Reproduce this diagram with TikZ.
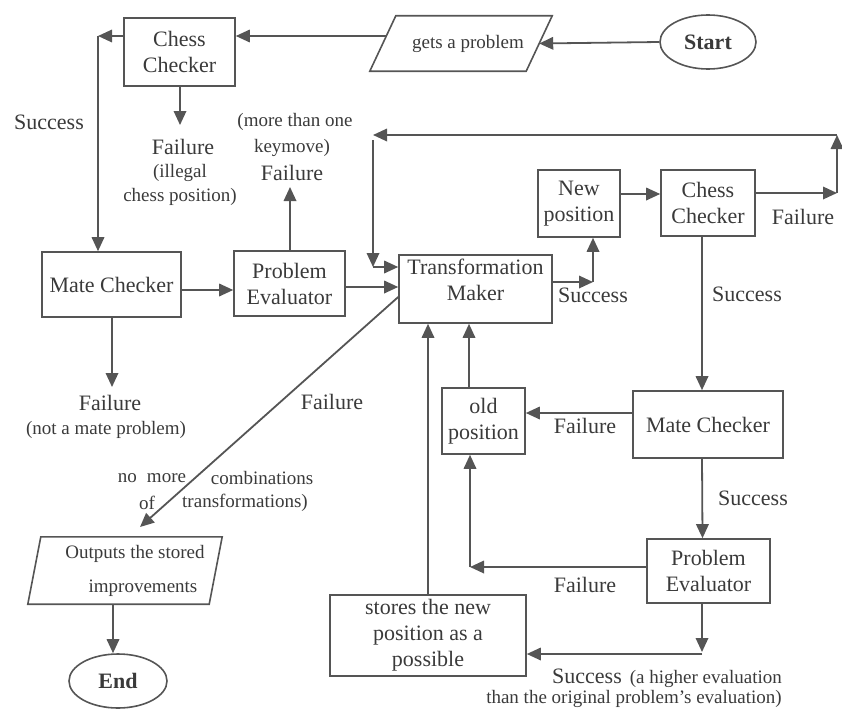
\documentclass[tikz,border=0pt]{standalone}
\usepackage{fontspec}
\setmainfont{Liberation Serif}
\usetikzlibrary{arrows.meta,shapes.geometric}
\definecolor{ink}{RGB}{85,85,85}
\definecolor{txt}{RGB}{58,58,58}
\newcommand\fbig{\fontsize{22}{26}\selectfont}
\newcommand\fsmall{\fontsize{19}{23}\selectfont}
\begin{document}
\begin{tikzpicture}[x=1pt,y=-1pt,
  box/.style={draw=ink,line width=1.6pt,text=txt,font=\fbig,align=center,inner sep=0pt},
  paratext/.style={text=txt,align=center,inner sep=0pt,font=\fsmall},
  paraline/.style={draw=ink,line width=1.6pt,line join=miter},
  term/.style={draw=ink,line width=1.6pt,text=txt,font=\fbig,ellipse,inner sep=0pt},
  lbl/.style={text=txt,font=\fbig,inner sep=1pt},
  slbl/.style={text=txt,font=\fsmall,inner sep=1pt},
  arr/.style={draw=ink,line width=1.8pt,-{Triangle[length=14pt,width=12.5pt]}}]
\path[use as bounding box] (0,0) rectangle (842,709);

% boxes
\node[box,minimum width=111pt,minimum height=68pt] (cc1) at (179.5,52) {Chess\\Checker};
\node[paratext,minimum width=182pt,minimum height=55pt] (gets) at (461,43.5) {\hspace*{14pt}gets a problem};
\draw[paraline] ([xshift=26pt]gets.north west) -- (gets.north east) -- ([xshift=-26pt]gets.south east) -- (gets.south west) -- cycle;
\node[term,minimum width=96pt,minimum height=54pt] (start) at (708,42) {\bfseries Start};
\node[box,minimum width=139pt,minimum height=65pt] (mc1) at (111.5,284.5) {\raisebox{-7pt}{Mate Checker}};
\node[box,minimum width=111pt,minimum height=65pt] (pe1) at (289.5,283.5) {Problem\\Evaluator};
\node[box,minimum width=153pt,minimum height=68pt] (tm) at (475.5,289) {Transformation\\Maker\\[-8pt]};
\node[box,minimum width=82pt,minimum height=67pt] (np) at (579,203.5) {New\\position};
\node[box,minimum width=94pt,minimum height=66pt] (cc2) at (708,203) {Chess\\Checker};
\node[box,minimum width=150pt,minimum height=67pt] (mc2) at (708,424.5) {\raisebox{-7pt}{Mate Checker}};
\node[box,minimum width=83pt,minimum height=66pt] (old) at (483.5,421) {old\\position};
\node[box,minimum width=123pt,minimum height=64pt] (pe2) at (708.5,571) {Problem\\Evaluator};
\node[box,minimum width=196pt,minimum height=81pt] (stores) at (428,635.5) {stores the new\\position as a\\possible};
\node[paratext,minimum width=194pt,minimum height=67pt] (out) at (125,570.5) {\hspace*{20pt}Outputs the stored\\[11pt]\hspace*{36pt}improvements};
\draw[paraline] ([xshift=13pt]out.north west) -- (out.north east) -- ([xshift=-13pt]out.south east) -- (out.south west) -- cycle;
\node[term,minimum width=98pt,minimum height=54pt] (end) at (118,681) {\bfseries End};

% labels
\node[lbl] (ls1) at (49,122) {Success};
\node[lbl] (lf1) at (183,147) {Failure};
\node[slbl] (lf1b) at (180,173) {(illegal};
\node[slbl] (lf1c) at (180,197) {chess position)};
\node[slbl] (lk1) at (295,122) {(more than one};
\node[slbl] (lk2) at (292,148) {keymove)};
\node[lbl] (lk3) at (292,173) {Failure};
\node[lbl] (lf2) at (110,403) {Failure};
\node[slbl] (lf2b) at (106,430) {(not a mate problem)};
\node[lbl] (lf3) at (332,402) {Failure};
\node[slbl] (ln1) at (152,478) {no\hspace{10pt}more};
\node[slbl] (ln2) at (262,478) {combinations};
\node[slbl] (ln3) at (147,503) {of};
\node[slbl] (ln4) at (245,503) {transformations)};
\node[lbl] (lf4) at (803,217) {Failure};
\node[lbl] (ls2) at (593,295) {Success};
\node[lbl] (ls3) at (747,294) {Success};
\node[lbl] (lf5) at (585,426) {Failure};
\node[lbl] (ls4) at (753,498) {Success};
\node[lbl] (lf6) at (585,585) {Failure};
\node[lbl,anchor=west] (ls5) at (551,678) {Success\hspace{8pt}{\fsmall(a higher evaluation}};
\node[slbl] (ls5b) at (634,699) {than the original problem's evaluation)};

% corner coordinates
\coordinate (k1) at (98,36);
\coordinate (fa1) at (180,125);
\coordinate (fa2) at (290,187);
\coordinate (fa3) at (112,387);
\coordinate (L1) at (837,193);
\coordinate (L2) at (837,135);
\coordinate (L3) at (373,135);
\coordinate (L4) at (373,267);
\coordinate (S1) at (593,282);
\coordinate (P1) at (470,567);
\coordinate (P2) at (702,652);
\coordinate (D1) at (140,527);

% connectors
\draw[arr] (start.west) -- ([xshift=-13pt]gets.east);
\draw[arr] ([xshift=16.5pt,yshift=7.5pt]gets.west) -- ([yshift=7.5pt]gets.west -| cc1.east);
\draw[arr] (k1 -| cc1.west) -- (k1);
\draw[arr] (k1) -- (k1 |- mc1.north);
\draw[arr] (fa1 |- cc1.south) -- (fa1);
\draw[arr] ([yshift=-5.5pt]mc1.east) -- ([yshift=-5.5pt]mc1.east -| pe1.west);
\draw[arr] (fa2 |- pe1.north) -- (fa2);
\draw[arr] (fa3 |- mc1.south) -- (fa3);
\draw[arr] ([yshift=-3.5pt]pe1.east) -- ([yshift=-3.5pt]pe1.east -| tm.west);
\draw[arr] (L1 -| cc2.east) -- (L1);
\draw[arr] (L1) -- (L2);
\draw[arr] (L2) -- (L3);
\draw[arr] ([yshift=-5pt]L3) -- (L4);
\draw[arr] (L4) -- (L4 -| tm.west);
\draw[arr] (S1 -| tm.east) -- (S1);
\draw[arr] (S1) -- (S1 |- np.south);
\draw[arr] ([yshift=9.5pt]np.east) -- ([yshift=9.5pt]np.east -| cc2.west);
\draw[arr] ([xshift=-6pt]cc2.south) -- ([xshift=-6pt]mc2.north);
\draw[arr] ([yshift=11.5pt]mc2.west) -- ([yshift=11.5pt]mc2.west -| old.east);
\draw[arr] ([xshift=-14.5pt]old.north) -- ([xshift=-14.5pt]old.north |- tm.south);
\draw[arr] (stores.north) -- (stores.north |- tm.south);
\draw[arr] ([xshift=-6pt]mc2.south) -- ([xshift=-6pt]pe2.north);
\draw[arr] (P1 -| pe2.west) -- (P1);
\draw[arr] (P1) -- (P1 |- old.south);
\draw[arr] (P2 |- pe2.south) -- (P2);
\draw[arr] ([yshift=-2pt]P2) -- ([yshift=-2pt]P2 -| stores.east);
\draw[arr] ([yshift=-8pt]tm.west) -- (D1);
\draw[arr] ([xshift=-5pt]end.north |- out.south) -- ([xshift=-5pt]end.north);
\end{tikzpicture}
\end{document}
